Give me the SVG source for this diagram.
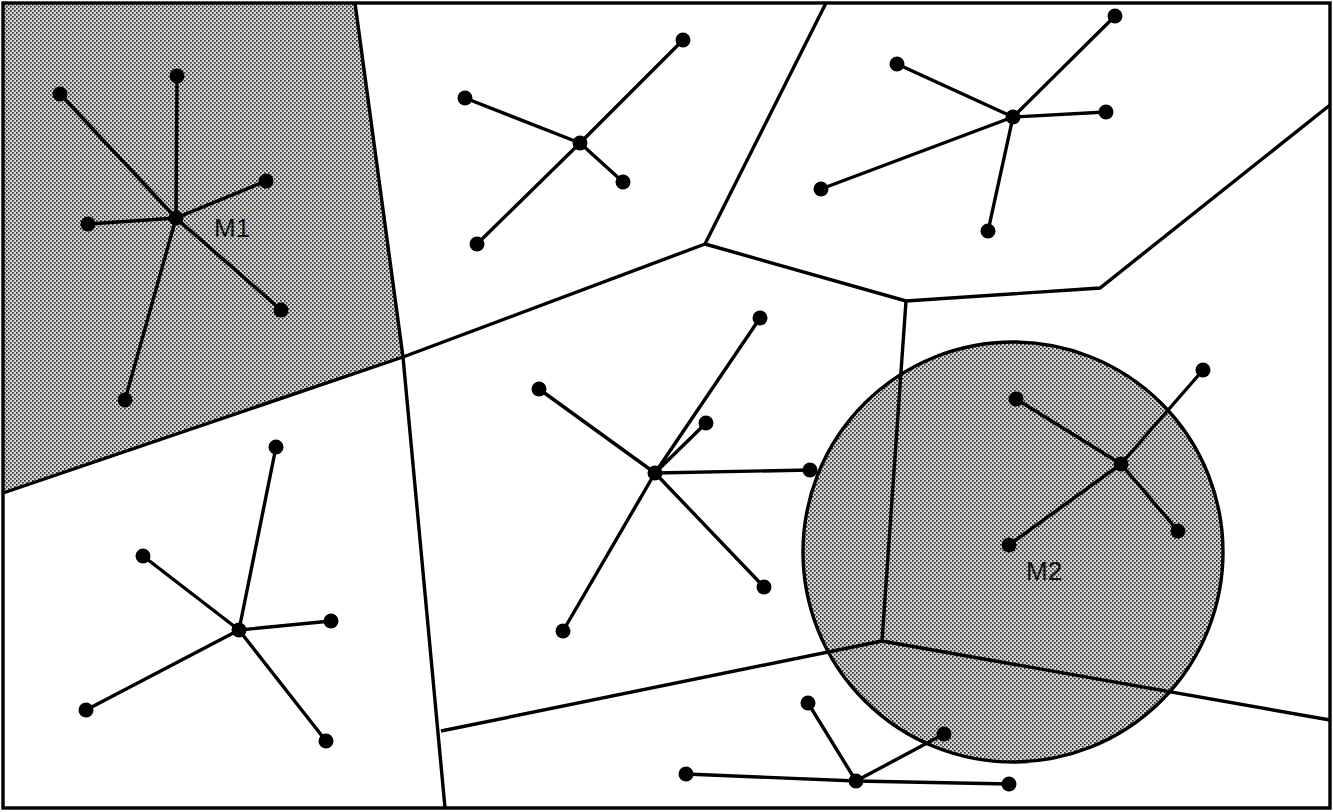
<svg xmlns="http://www.w3.org/2000/svg" width="1333" height="812" viewBox="0 0 1333 812">
<defs>
<pattern id="dots" width="4" height="4" patternUnits="userSpaceOnUse">
<rect width="4" height="4" fill="#d6d6d6"/>
<rect x="0" y="0" width="1.6" height="1.6" fill="#222"/>
<rect x="2" y="2" width="1.6" height="1.6" fill="#222"/>
</pattern>
</defs>
<style>
.cell{fill:none;stroke:#000;stroke-width:3.4;stroke-linejoin:miter}
.edge{stroke:#000;stroke-width:3.4;stroke-linecap:round}
.dot{fill:#000}
.lbl{font-family:"Liberation Sans",Arial,sans-serif;font-size:26px;fill:#111}
</style>
<rect width="1333" height="812" fill="#fff"/>
<g id="shaded-regions">
<polygon points="3,3 355,3 403,357 3,493" fill="url(#dots)"/>
<circle cx="1013" cy="552" r="210" fill="url(#dots)" stroke="#000" stroke-width="3.4"/>
</g>
<g id="connectors">
<rect x="3" y="3" width="1327" height="805" class="cell"/>
<polyline class="cell" points="355,3 403,357 445,808"/>
<polyline class="cell" points="3,493 403,357 705,244 826,3"/>
<polyline class="cell" points="705,244 906,301 1100,288 1330,105"/>
<polyline class="cell" points="906,301 882,641 1330,720"/>
<polyline class="cell" points="882,641 441,731"/>
</g>
<g id="cluster-M1">
<g class="edge">
<line x1="176" y1="218" x2="60" y2="94"/>
<line x1="176" y1="218" x2="177" y2="76"/>
<line x1="176" y1="218" x2="266" y2="181"/>
<line x1="176" y1="218" x2="88" y2="224"/>
<line x1="176" y1="218" x2="281" y2="310"/>
<line x1="176" y1="218" x2="125" y2="400"/>
</g>
<g class="dot">
<circle cx="176" cy="218" r="7.5"/><circle cx="60" cy="94" r="7.5"/><circle cx="177" cy="76" r="7.5"/><circle cx="266" cy="181" r="7.5"/><circle cx="88" cy="224" r="7.5"/><circle cx="281" cy="310" r="7.5"/><circle cx="125" cy="400" r="7.5"/>
</g>
<text class="lbl" x="214" y="237">M1</text>
</g>
<g id="cluster-top-mid">
<g class="edge">
<line x1="580" y1="143" x2="465" y2="98"/>
<line x1="580" y1="143" x2="683" y2="40"/>
<line x1="580" y1="143" x2="623" y2="182"/>
<line x1="580" y1="143" x2="477" y2="244"/>
</g>
<g class="dot">
<circle cx="580" cy="143" r="7.5"/><circle cx="465" cy="98" r="7.5"/><circle cx="683" cy="40" r="7.5"/><circle cx="623" cy="182" r="7.5"/><circle cx="477" cy="244" r="7.5"/>
</g>
</g>
<g id="cluster-top-right">
<g class="edge">
<line x1="1013" y1="117" x2="897" y2="64"/>
<line x1="1013" y1="117" x2="1115" y2="16"/>
<line x1="1013" y1="117" x2="1106" y2="112"/>
<line x1="1013" y1="117" x2="821" y2="189"/>
<line x1="1013" y1="117" x2="988" y2="231"/>
</g>
<g class="dot">
<circle cx="1013" cy="117" r="7.5"/><circle cx="897" cy="64" r="7.5"/><circle cx="1115" cy="16" r="7.5"/><circle cx="1106" cy="112" r="7.5"/><circle cx="821" cy="189" r="7.5"/><circle cx="988" cy="231" r="7.5"/>
</g>
</g>
<g id="cluster-bottom-left">
<g class="edge">
<line x1="239" y1="630" x2="276" y2="447"/>
<line x1="239" y1="630" x2="143" y2="556"/>
<line x1="239" y1="630" x2="331" y2="621"/>
<line x1="239" y1="630" x2="86" y2="710"/>
<line x1="239" y1="630" x2="326" y2="741"/>
</g>
<g class="dot">
<circle cx="239" cy="630" r="7.5"/><circle cx="276" cy="447" r="7.5"/><circle cx="143" cy="556" r="7.5"/><circle cx="331" cy="621" r="7.5"/><circle cx="86" cy="710" r="7.5"/><circle cx="326" cy="741" r="7.5"/>
</g>
</g>
<g id="cluster-middle">
<g class="edge">
<line x1="655" y1="473" x2="760" y2="318"/>
<line x1="655" y1="473" x2="539" y2="389"/>
<line x1="655" y1="473" x2="706" y2="423"/>
<line x1="655" y1="473" x2="810" y2="470"/>
<line x1="655" y1="473" x2="764" y2="587"/>
<line x1="655" y1="473" x2="563" y2="631"/>
</g>
<g class="dot">
<circle cx="655" cy="473" r="7.5"/><circle cx="760" cy="318" r="7.5"/><circle cx="539" cy="389" r="7.5"/><circle cx="706" cy="423" r="7.5"/><circle cx="810" cy="470" r="7.5"/><circle cx="764" cy="587" r="7.5"/><circle cx="563" cy="631" r="7.5"/>
</g>
</g>
<g id="cluster-M2">
<g class="edge">
<line x1="1121" y1="464" x2="1016" y2="399"/>
<line x1="1121" y1="464" x2="1203" y2="370"/>
<line x1="1121" y1="464" x2="1178" y2="531"/>
<line x1="1121" y1="464" x2="1009" y2="545"/>
</g>
<g class="dot">
<circle cx="1121" cy="464" r="7.5"/><circle cx="1016" cy="399" r="7.5"/><circle cx="1203" cy="370" r="7.5"/><circle cx="1178" cy="531" r="7.5"/><circle cx="1009" cy="545" r="7.5"/>
</g>
<text class="lbl" x="1026" y="580">M2</text>
</g>
<g id="cluster-bottom">
<g class="edge">
<line x1="856" y1="781" x2="808" y2="703"/>
<line x1="856" y1="781" x2="944" y2="734"/>
<line x1="856" y1="781" x2="1009" y2="784"/>
<line x1="856" y1="781" x2="686" y2="774"/>
</g>
<g class="dot">
<circle cx="856" cy="781" r="7.5"/><circle cx="808" cy="703" r="7.5"/><circle cx="944" cy="734" r="7.5"/><circle cx="1009" cy="784" r="7.5"/><circle cx="686" cy="774" r="7.5"/>
</g>
</g>
</svg>
